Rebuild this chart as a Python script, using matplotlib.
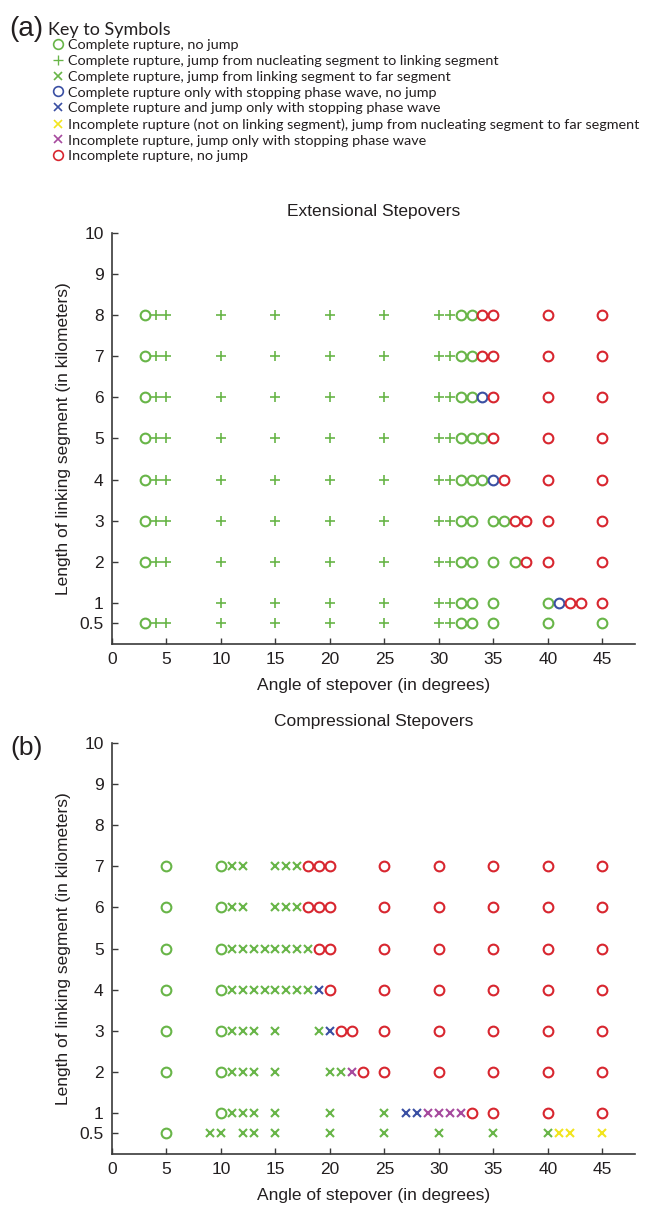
import matplotlib
matplotlib.use("Agg")
import matplotlib.pyplot as plt
from matplotlib.lines import Line2D

# ---------------- data: angle of stepover (deg) listed per linking-segment length (km)
ytick_vals = [0.5, 1, 2, 3, 4, 5, 6, 7, 8, 9, 10]
ytick_labels = ["0.5", "1", "2", "3", "4", "5", "6", "7", "8", "9", "10"]
xtick_vals = [0, 5, 10, 15, 20, 25, 30, 35, 40, 45]

# Extensional stepovers
ext_complete_nojump = {8: [3, 32, 33], 7: [3, 32, 33], 6: [3, 32, 33],
                       5: [3, 32, 33, 34], 4: [3, 32, 33, 34],
                       3: [3, 32, 33, 35, 36], 2: [3, 32, 33, 35, 37],
                       1: [32, 33, 35, 40], 0.5: [3, 32, 33, 35, 40, 45]}
ext_jump_nucl_link = {8: [4, 5, 10, 15, 20, 25, 30, 31], 7: [4, 5, 10, 15, 20, 25, 30, 31],
                      6: [4, 5, 10, 15, 20, 25, 30, 31], 5: [4, 5, 10, 15, 20, 25, 30, 31],
                      4: [4, 5, 10, 15, 20, 25, 30, 31], 3: [4, 5, 10, 15, 20, 25, 30, 31],
                      2: [4, 5, 10, 15, 20, 25, 30, 31], 1: [10, 15, 20, 25, 30, 31],
                      0.5: [4, 5, 10, 15, 20, 25, 30, 31]}
ext_stopping_nojump = {6: [34], 4: [35], 1: [41]}
ext_incomplete_nojump = {8: [34, 35, 40, 45], 7: [34, 35, 40, 45], 6: [35, 40, 45],
                         5: [35, 40, 45], 4: [36, 40, 45], 3: [37, 38, 40, 45],
                         2: [38, 40, 45], 1: [42, 43, 45]}

# Compressional stepovers
cmp_complete_nojump = {7: [5, 10], 6: [5, 10], 5: [5, 10], 4: [5, 10], 3: [5, 10],
                       2: [5, 10], 1: [10], 0.5: [5]}
cmp_jump_link_far = {7: [11, 12, 15, 16, 17], 6: [11, 12, 15, 16, 17],
                     5: [11, 12, 13, 14, 15, 16, 17, 18], 4: [11, 12, 13, 14, 15, 16, 17, 18],
                     3: [11, 12, 13, 15, 19], 2: [11, 12, 13, 15, 20, 21],
                     1: [11, 12, 13, 15, 20, 25],
                     0.5: [9, 10, 12, 13, 15, 20, 25, 30, 35, 40]}
cmp_stopping_jump = {4: [19], 3: [20], 1: [27, 28]}
cmp_incomplete_stopping_jump = {2: [22], 1: [29, 30, 31, 32]}
cmp_incomplete_nucl_far = {0.5: [41, 42, 45]}
cmp_incomplete_nojump = {7: [18, 19, 20, 25, 30, 35, 40, 45], 6: [18, 19, 20, 25, 30, 35, 40, 45],
                         5: [19, 20, 25, 30, 35, 40, 45], 4: [20, 25, 30, 35, 40, 45],
                         3: [21, 22, 25, 30, 35, 40, 45], 2: [23, 25, 30, 35, 40, 45],
                         1: [33, 35, 40, 45]}

legend_labels = [
    "Complete rupture, no jump",
    "Complete rupture, jump from nucleating segment to linking segment",
    "Complete rupture, jump from linking segment to far segment",
    "Complete rupture only with stopping phase wave, no jump",
    "Complete rupture and jump only with stopping phase wave",
    "Incomplete rupture (not on linking segment), jump from nucleating segment to far segment",
    "Incomplete rupture, jump only with stopping phase wave",
    "Incomplete rupture, no jump",
]

# ---------------- styles
GREEN = "#68b548"
BLUE = "#3a4fa3"
RED = "#d8262f"
MAGENTA = "#a64a9e"
YELLOW = "#f2e51d"
TEXT = "#231f20"
SPINE = "#3a3a3a"

styles = {
    "o_green": dict(marker="o", color=GREEN, ms=7.0, mew=1.5),
    "plus_green": dict(marker="+", color=GREEN, ms=7.5, mew=1.2),
    "x_green": dict(marker="x", color=GREEN, ms=5.2, mew=1.5),
    "o_blue": dict(marker="o", color=BLUE, ms=7.0, mew=1.5),
    "x_blue": dict(marker="x", color=BLUE, ms=5.2, mew=1.5),
    "x_yellow": dict(marker="x", color=YELLOW, ms=5.2, mew=1.5),
    "x_magenta": dict(marker="x", color=MAGENTA, ms=5.2, mew=1.5),
    "o_red": dict(marker="o", color=RED, ms=7.0, mew=1.5),
}
legend_keys = ["o_green", "plus_green", "x_green", "o_blue", "x_blue",
               "x_yellow", "x_magenta", "o_red"]

AXFONT = "Liberation Sans"
KEYFONT = "Lato"

fig = plt.figure(figsize=(6.56, 12.05), dpi=100)
fig.patch.set_facecolor("white")


def draw_series(ax, series, key):
    xs, ys = [], []
    for length, angles in series.items():
        for a in angles:
            xs.append(a)
            ys.append(length)
    st = styles[key]
    ax.plot(xs, ys, linestyle="none", marker=st["marker"], markersize=st["ms"],
            markeredgewidth=st["mew"], markeredgecolor=st["color"],
            markerfacecolor="none", zorder=3, clip_on=False)


def style_axes(ax, title):
    ax.set_xlim(0, 48)
    ax.set_ylim(0, 10)
    for s in ("top", "right"):
        ax.spines[s].set_visible(False)
    for s in ("left", "bottom"):
        ax.spines[s].set_color(SPINE)
        ax.spines[s].set_linewidth(1.2)
    ax.set_xticks(xtick_vals)
    ax.set_xticklabels([str(v) for v in xtick_vals])
    ax.set_yticks(ytick_vals)
    ax.set_yticklabels(ytick_labels)
    ax.tick_params(direction="in", length=4, width=1.0, color=SPINE,
                   labelsize=12.5, labelcolor=TEXT, pad=6)
    for lab in ax.get_xticklabels() + ax.get_yticklabels():
        lab.set_fontfamily(AXFONT)
    ax.set_xlabel("Angle of stepover (in degrees)", fontsize=12.5, color=TEXT,
                  family=AXFONT, labelpad=8)
    ax.set_ylabel("Length of linking segment (in kilometers)", fontsize=12.5,
                  color=TEXT, family=AXFONT, labelpad=6)
    ax.set_title(title, fontsize=12.5, color=TEXT, family=AXFONT, pad=12)


# (a) extensional
ax1 = fig.add_axes([0.1707, 0.4656, 0.7973, 0.3410])
draw_series(ax1, ext_jump_nucl_link, "plus_green")
draw_series(ax1, ext_complete_nojump, "o_green")
draw_series(ax1, ext_stopping_nojump, "o_blue")
draw_series(ax1, ext_incomplete_nojump, "o_red")
style_axes(ax1, "Extensional Stepovers")

# (b) compressional
ax2 = fig.add_axes([0.1707, 0.0423, 0.7973, 0.3411])
draw_series(ax2, cmp_jump_link_far, "x_green")
draw_series(ax2, cmp_complete_nojump, "o_green")
draw_series(ax2, cmp_stopping_jump, "x_blue")
draw_series(ax2, cmp_incomplete_stopping_jump, "x_magenta")
draw_series(ax2, cmp_incomplete_nucl_far, "x_yellow")
draw_series(ax2, cmp_incomplete_nojump, "o_red")
style_axes(ax2, "Compressional Stepovers")

# panel letters and key
fig.text(0.014, 0.9700, "(a)", fontsize=20, color=TEXT, family=AXFONT, va="baseline")
fig.text(0.073, 0.9712, "Key to Symbols", fontsize=13, color=TEXT, family=KEYFONT,
         va="baseline")
fig.text(0.016, 0.3735, "(b)", fontsize=19, color=TEXT, family=AXFONT, va="baseline")

handles = []
for key in legend_keys:
    st = styles[key]
    handles.append(Line2D([], [], linestyle="none", marker=st["marker"],
                          markersize=st["ms"], markeredgewidth=st["mew"] * 0.8,
                          markeredgecolor=st["color"], markerfacecolor="none"))
fig.legend(handles, legend_labels, loc="upper left", bbox_to_anchor=(0.078, 0.9678),
           frameon=False, handlelength=0.9, handletextpad=0.25, labelspacing=0.26,
           borderaxespad=0, borderpad=0,
           prop=dict(family=KEYFONT, size=10.4), labelcolor=TEXT)

fig.savefig("out.png", dpi=100, facecolor="white")
